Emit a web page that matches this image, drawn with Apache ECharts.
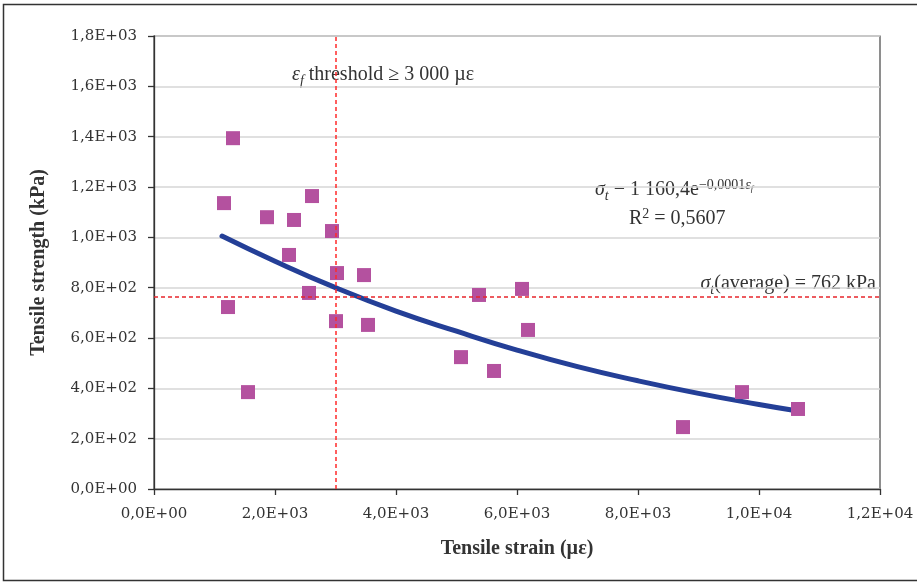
<!DOCTYPE html>
<html>
<head>
<meta charset="utf-8">
<script src="https://cdn.jsdelivr.net/npm/echarts@6/dist/echarts.min.js"></script>
<style>
  html, body { margin: 0; padding: 0; background: #fff; }
  #chart { width: 917px; height: 582px; }
</style>
</head>
<body>
<div id="chart"></div>
<script>
// measured points: tensile strain (µε) vs tensile strength (kPa)
const strain = [1157, 1306, 1223, 1554, 1868, 2231, 2314, 2612, 2562, 2942, 3025,
  3008, 3471, 3537, 5074, 5372, 5620, 6083, 6182, 8744, 9719, 10645];
const strength = [1136, 1394, 723, 385, 1080, 930, 1069, 1164, 779, 1025, 858,
  667, 850, 652, 524, 771, 469, 795, 632, 246, 385, 318];

// trend curve
const trendX = [1124, 2000, 3000, 4000, 5000, 6000, 7000, 8000, 9000, 10000, 10645];
const trendY = [1005, 905, 800, 707, 627, 552, 486, 430, 380, 336, 310];

const xTickLabels = ["0,0E+00", "2,0E+03", "4,0E+03", "6,0E+03", "8,0E+03", "1,0E+04", "1,2E+04"];
const yTickLabels = ["0,0E+00", "2,0E+02", "4,0E+02", "6,0E+02", "8,0E+02", "1,0E+03",
  "1,2E+03", "1,4E+03", "1,6E+03", "1,8E+03"];

const thresholdStrain = 3000;
const averageStrength = 762;

const tickFont = "DejaVu Serif";
const textFont = "Liberation Serif";
const ink = "#333";

const chart = echarts.init(document.getElementById("chart"));

chart.setOption({
  animation: false,
  backgroundColor: "#fff",
  grid: {
    show: true, left: 154, right: 37, top: 36, bottom: 93,
    borderColor: "#444", borderWidth: 1.2, backgroundColor: "transparent"
  },
  xAxis: {
    type: "value", min: 0, max: 12000, interval: 2000,
    name: "Tensile strain (µε)", nameLocation: "middle", nameGap: 50,
    nameTextStyle: { fontFamily: textFont, fontWeight: "bold", fontSize: 20, color: ink },
    axisLine: { lineStyle: { color: "#333", width: 1.3 } },
    axisTick: { show: true, length: 6, lineStyle: { color: "#333", width: 1.3 } },
    axisLabel: {
      fontFamily: tickFont, fontSize: 15, color: ink, margin: 18,
      formatter: (v) => xTickLabels[Math.round(v / 2000)]
    },
    splitLine: { show: false }
  },
  yAxis: {
    type: "value", min: 0, max: 1800, interval: 200,
    name: "Tensile strength (kPa)", nameLocation: "middle", nameGap: 105,
    nameTextStyle: { fontFamily: textFont, fontWeight: "bold", fontSize: 20, color: ink },
    axisLine: { show: true, lineStyle: { color: "#333", width: 1.3 } },
    axisTick: { show: true, length: 6, lineStyle: { color: "#333", width: 1.3 } },
    axisLabel: {
      fontFamily: tickFont, fontSize: 15, color: ink, margin: 17,
      formatter: (v) => yTickLabels[Math.round(v / 200)]
    },
    splitLine: { lineStyle: { color: "#d6d6d6", width: 1.6 } }
  },
  series: [
    {
      type: "line",
      data: trendX.map((x, i) => [x, trendY[i]]),
      smooth: true,
      showSymbol: false,
      z: 3,
      lineStyle: { color: "#243f97", width: 5, cap: "round" }
    },
    {
      type: "scatter",
      data: strain.map((x, i) => [x, strength[i]]),
      symbol: "rect",
      symbolSize: 14,
      z: 4,
      itemStyle: { color: "#b4519f", opacity: 1 },
      markLine: {
        silent: true,
        symbol: "none",
        label: { show: false },
        emphasis: { disabled: true },
        lineStyle: { color: "#ff2a2a", type: [4, 3], width: 1.5, opacity: 1 },
        data: [
          { xAxis: thresholdStrain },
          { yAxis: averageStrength, lineStyle: { color: "#e8262c", type: [4, 3], width: 1.5 } }
        ]
      }
    }
  ],
  graphic: [
    {
      type: "rect", silent: true,
      shape: { x: 3.5, y: 4.5, width: 930, height: 576 },
      style: { fill: "none", stroke: "#333", lineWidth: 1.5 }
    },
    {
      type: "text", left: 292, top: 65, silent: true,
      style: {
        text: "{i|ε}{sub|f}{n| threshold ≥ 3 000 µε}",
        fill: ink,
        rich: {
          i: { fontFamily: textFont, fontStyle: "italic", fontSize: 20, fill: ink },
          sub: { fontFamily: textFont, fontStyle: "italic", fontSize: 14, fill: ink, padding: [12, 0, 0, 0] },
          n: { fontFamily: textFont, fontSize: 20, fill: ink }
        }
      }
    },
    {
      type: "text", left: 595, top: 178, silent: true,
      style: {
        text: "{i|σ}{sub|t}{n| − 1 160,4e}{sup|−0,0001}{supi|ε}{ssub|f}",
        fill: ink,
        rich: {
          i: { fontFamily: textFont, fontStyle: "italic", fontSize: 20, fill: ink },
          sub: { fontFamily: textFont, fontStyle: "italic", fontSize: 14, fill: ink, padding: [12, 0, 0, 0] },
          n: { fontFamily: textFont, fontSize: 20, fill: ink },
          sup: { fontFamily: textFont, fontSize: 14, fill: ink, padding: [0, 0, 10, 0] },
          supi: { fontFamily: textFont, fontStyle: "italic", fontSize: 14, fill: ink, padding: [0, 0, 10, 0] },
          ssub: { fontFamily: textFont, fontStyle: "italic", fontSize: 9, fill: ink, padding: [0, 0, 2, 0] }
        }
      }
    },
    {
      type: "text", left: 629, top: 207, silent: true,
      style: {
        text: "{n|R}{sup|2}{n| = 0,5607}",
        fill: ink,
        rich: {
          n: { fontFamily: textFont, fontSize: 20, fill: ink },
          sup: { fontFamily: textFont, fontSize: 14, fill: ink, padding: [0, 0, 10, 0] }
        }
      }
    },
    {
      type: "text", right: 41, top: 274, silent: true,
      style: {
        text: "{i|σ}{sub|t}{n|(average) = 762 kPa}",
        fill: ink,
        rich: {
          i: { fontFamily: textFont, fontStyle: "italic", fontSize: 20, fill: ink },
          sub: { fontFamily: textFont, fontStyle: "italic", fontSize: 14, fill: ink, padding: [12, 0, 0, 0] },
          n: { fontFamily: textFont, fontSize: 20, fill: ink }
        }
      }
    }
  ]
});
</script>
</body>
</html>
